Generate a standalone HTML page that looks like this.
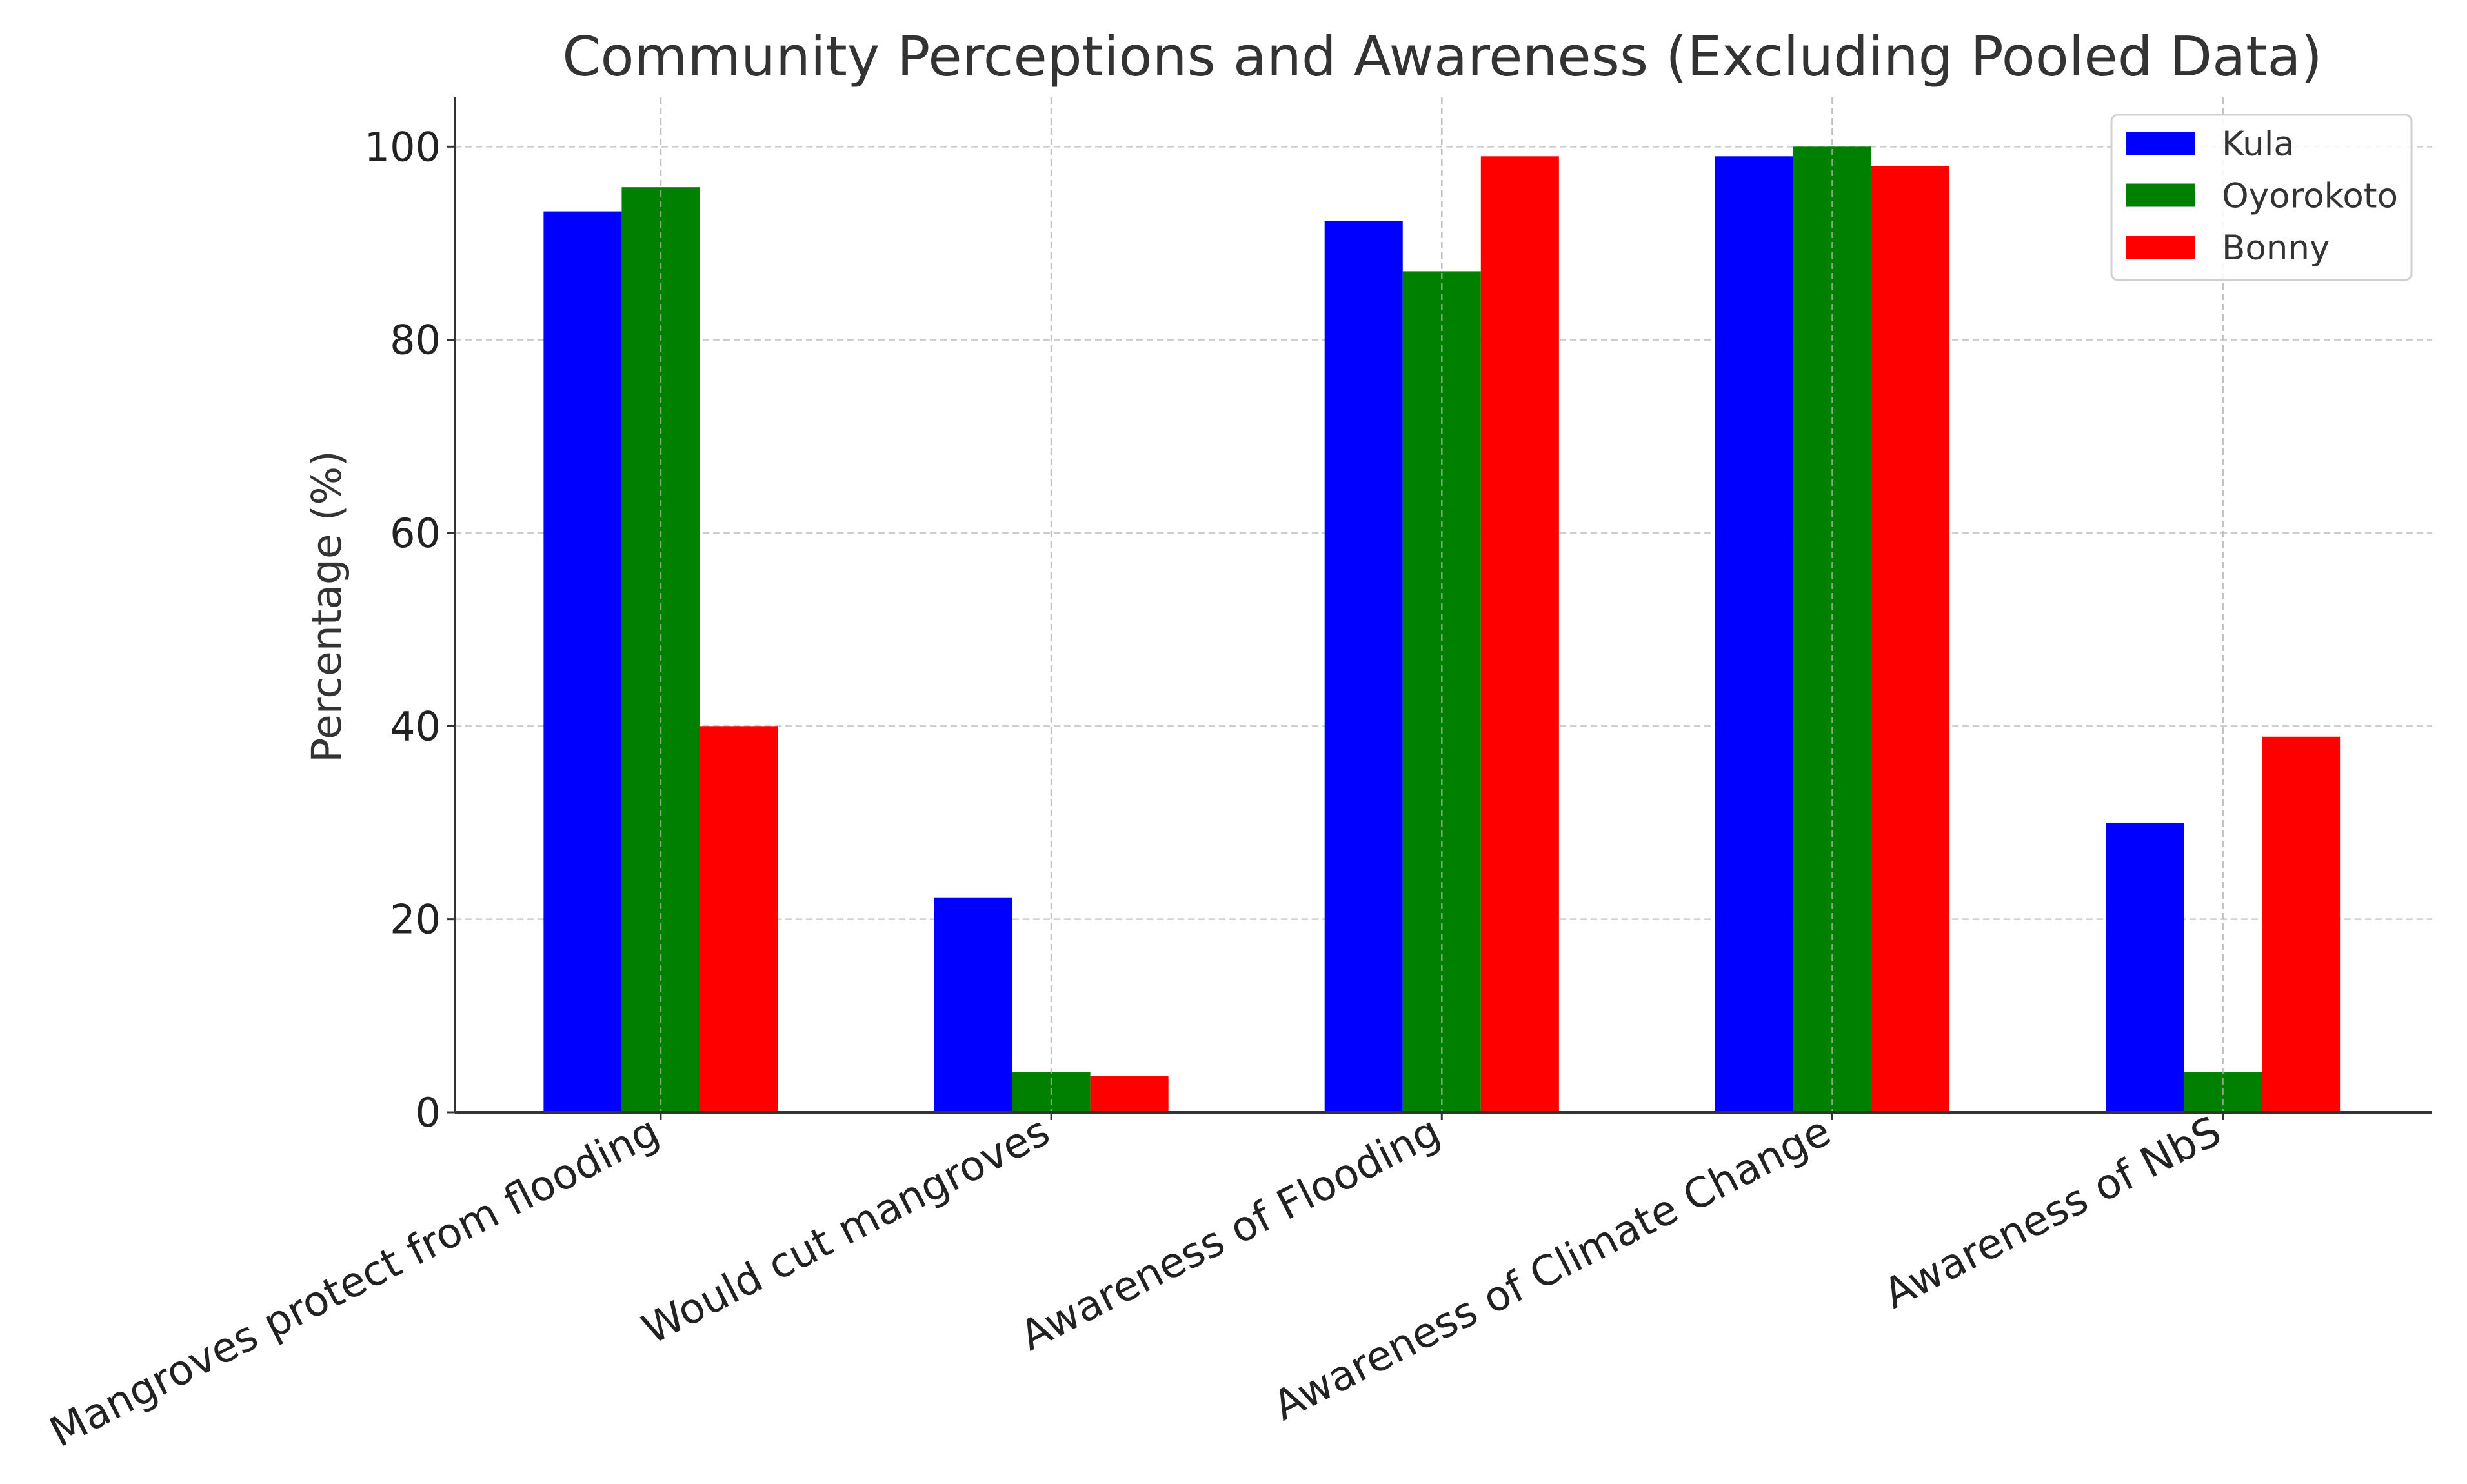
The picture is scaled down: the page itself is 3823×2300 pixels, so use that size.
<!DOCTYPE html>
<html><head><meta charset="utf-8"><style>
html,body{margin:0;padding:0;background:#fff;}
svg{display:block;font-family:"DejaVu Sans","Liberation Sans",sans-serif;}
</style></head><body>
<svg id="chart" width="3823" height="2300" viewBox="0 0 3823 2300" xmlns="http://www.w3.org/2000/svg">
<rect width="3823" height="2300" fill="#fff"/>
<text x="2235" y="117" text-anchor="middle" font-size="85" fill="#333">Community Perceptions and Awareness (Excluding Pooled Data)</text>
<text transform="translate(528,940) rotate(-90)" text-anchor="middle" font-size="63" fill="#333">Percentage (%)</text>
<g id="grid"></g><g id="bars"></g><g id="axes"></g><g id="legend"></g>
</svg>
<script>
const categories = ["Mangroves protect from flooding","Would cut mangroves","Awareness of Flooding","Awareness of Climate Change","Awareness of NbS"];
const seriesNames = ["Kula","Oyorokoto","Bonny"];
const kula = [93.3, 22.2, 92.3, 99, 30];
const oyorokoto = [95.8, 4.2, 87.1, 100, 4.2];
const bonny = [40, 3.8, 99, 98, 38.9];
const yTicks = [0,20,40,60,80,100];

const NS="http://www.w3.org/2000/svg";
const L=705,R=3769,T=151,B=1724;
const xmin=-0.527,xmax=4.536,ymax=105.1;
const xs=v=>L+(v-xmin)/(xmax-xmin)*(R-L);
const ys=v=>B-v/ymax*(B-T);
function mk(tag,attrs,parent){const e=document.createElementNS(NS,tag);for(const k in attrs)e.setAttribute(k,attrs[k]);parent.appendChild(e);return e;}
const grid=document.getElementById('grid'),bars=document.getElementById('bars'),axes=document.getElementById('axes'),leg=document.getElementById('legend');
yTicks.forEach(t=>{
  const g=mk('line',{x1:L,x2:R,y1:ys(t),y2:ys(t),stroke:'#cccccc','stroke-width':2.5,'stroke-dasharray':'10,6'},grid);
  
  
  const tk=mk('line',{x1:L-12,x2:L,y1:ys(t),y2:ys(t),stroke:'#333','stroke-width':3},axes);
  
  
  const lb=mk('text',{x:L-22,y:ys(t)+22,'text-anchor':'end','font-size':62,fill:'#222'},axes);
  
  
  lb.textContent=t;
});
categories.forEach((c,i)=>{
  const g=mk('line',{x1:xs(i),x2:xs(i),y1:T,y2:B,stroke:'#cccccc','stroke-width':2.5,'stroke-dasharray':'10,6'},grid);
  
  
});
const series=[kula,oyorokoto,bonny],colors=['#0000ff','#008000','#ff0000'];
series.forEach((s,si)=>{
  s.forEach((v,i)=>{
    const x0=xs(i+(si-1)*0.2-0.1),x1=xs(i+(si-1)*0.2+0.1);
    const r=mk('rect',{x:x0,y:ys(v),width:x1-x0,height:ys(0)-ys(v),fill:colors[si]},bars);
    
    
  });
});
categories.forEach((c,i)=>{
  const g=mk('line',{x1:xs(i),x2:xs(i),y1:T,y2:B,stroke:'#bbbbbb','stroke-width':2.5,'stroke-dasharray':'10,6','opacity':0.7},bars);
  
  
  const tk=mk('line',{x1:xs(i),x2:xs(i),y1:B,y2:B+12,stroke:'#333','stroke-width':3},axes);
  
  
  const lb=mk('text',{transform:`translate(${xs(i)+2},${B+44}) rotate(-27)`,'text-anchor':'end','font-size':64,fill:'#222'},axes);
  
  
  lb.textContent=c;
});
const ya=mk('line',{x1:L,x2:L,y1:T,y2:B,stroke:'#333','stroke-width':4},axes);


const xa=mk('line',{x1:L,x2:R,y1:B,y2:B,stroke:'#333','stroke-width':4},axes);


const box=mk('rect',{x:3272,y:178,width:465,height:256,rx:10,fill:'#fff','fill-opacity':0.85,stroke:'#d0d0d0','stroke-width':3},leg);


seriesNames.forEach((n,si)=>{
  const cy=222+si*80.5;
  const p=mk('rect',{x:3294,y:cy-18,width:107,height:36,fill:colors[si]},leg);
  
  
  const t=mk('text',{x:3443,y:cy+19,'font-size':53,fill:'#333'},leg);
  
  
  t.textContent=n;
});
</script>
</body></html>
